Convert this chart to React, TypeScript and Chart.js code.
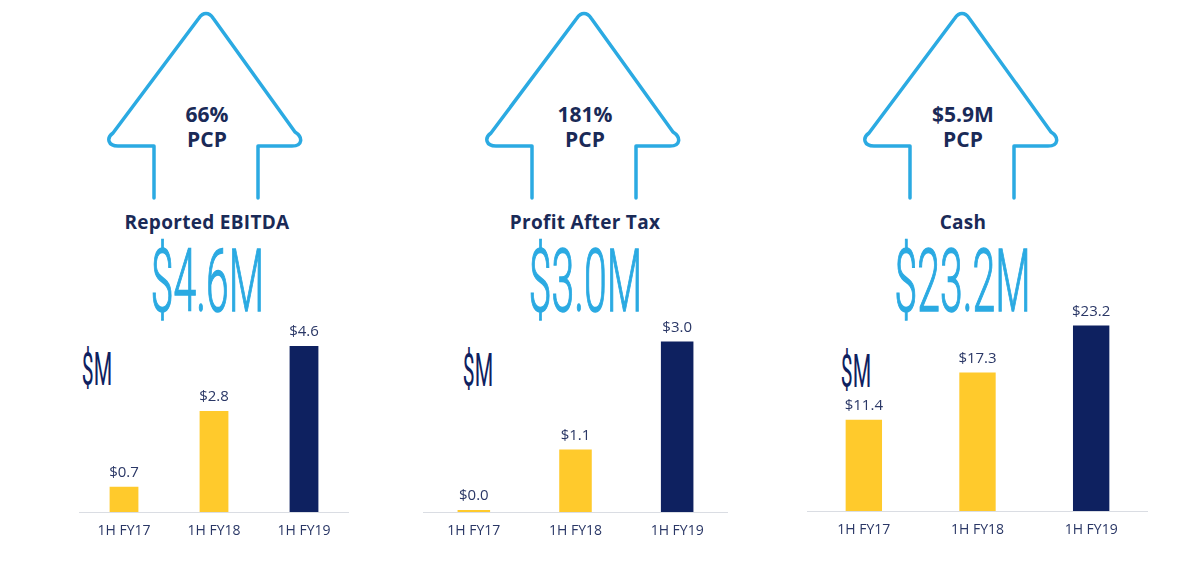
import React, { useEffect, useRef } from "react";
import { Chart, registerables } from "chart.js";

Chart.register(...registerables);

// ---- data ----
const categories = ["1H FY17", "1H FY18", "1H FY19"];
const ebitdaValues = [0.7, 2.8, 4.6];
const profitValues = [0.0, 1.1, 3.0];
const cashValues = [11.4, 17.3, 23.2];
const titles = ["Reported EBITDA", "Profit After Tax", "Cash"];
const headlineValues = ["$4.6M", "$3.0M", "$23.2M"];
const pcpValues = ["66%", "181%", "$5.9M"];

// ---- style ----
const YELLOW = "#FFCA2C";
const NAVY = "#0E2160";
const TEXT_NAVY = "#1A2A57";
const LABEL_COLOR = "#2A3766";
const SKY = "#2BAAE2";
const BAR_COLORS = [YELLOW, YELLOW, NAVY];

// ---- layout ----
const CANVAS_TOP = 290;
const PAD_TOP = 20;
const AXIS_H = 40;
const panels = [
  { values: ebitdaValues, left: 79, width: 270, baseline: 512, yMax: 5.6, cx: 207, mx: 97, my: 369 },
  { values: profitValues, left: 423, width: 305, baseline: 512, yMax: 3.556, cx: 585, mx: 478, my: 370 },
  { values: cashValues, left: 807, width: 341, baseline: 511, yMax: 25.125, cx: 963, mx: 856, my: 371 },
];

const valueLabelPlugin = {
  id: "valueLabels",
  afterDatasetsDraw(chart: any) {
    const ctx = chart.ctx;
    const meta = chart.getDatasetMeta(0);
    const data = chart.data.datasets[0].data;
    ctx.save();
    ctx.font = "15px 'Open Sans'";
    ctx.fillStyle = LABEL_COLOR;
    ctx.textAlign = "center";
    ctx.textBaseline = "middle";
    meta.data.forEach((bar: any, i: number) => {
      ctx.fillText("$" + Number(data[i]).toFixed(1), bar.x, bar.y - 14);
    });
    ctx.restore();
  },
};

function BarPanel({ p }: { p: any }) {
  const ref = useRef<HTMLCanvasElement>(null);
  const height = p.baseline - CANVAS_TOP + AXIS_H;
  useEffect(() => {
    if (!ref.current) return;
    const chart = new Chart(ref.current, {
      type: "bar",
      data: {
        labels: categories,
        datasets: [
          {
            data: p.values,
            backgroundColor: BAR_COLORS,
            borderWidth: 0,
            barPercentage: 0.32,
            categoryPercentage: 1,
            minBarLength: 2,
          },
        ],
      },
      options: {
        responsive: false,
        animation: false,
        devicePixelRatio: 1,
        layout: { padding: { top: PAD_TOP, left: 0, right: 0, bottom: 0 } },
        plugins: { legend: { display: false }, tooltip: { enabled: false } },
        scales: {
          x: {
            grid: { display: false, drawTicks: false },
            border: { display: true, color: "#DADDE3", width: 1 },
            ticks: {
              color: LABEL_COLOR,
              font: { family: "'Open Sans'", size: 14 },
              padding: 11,
              maxRotation: 0,
            },
            afterFit: (scale: any) => {
              scale.height = AXIS_H;
            },
          },
          y: { display: false, min: 0, max: p.yMax },
        },
      },
      plugins: [valueLabelPlugin],
    });
    return () => chart.destroy();
  }, []);
  return (
    <canvas
      ref={ref}
      width={p.width}
      height={height}
      style={{ position: "absolute", left: p.left, top: CANVAS_TOP, width: p.width, height }}
    />
  );
}

function arrowPath(cx: number) {
  const L = cx - 52;
  const R = cx + 52;
  return [
    `M ${L} 198`,
    `L ${L} 146`,
    `L ${cx - 88} 146`,
    `C ${cx - 98} 146, ${cx - 100} 138, ${cx - 93} 133`,
    `L ${cx - 7} 18`,
    `C ${cx - 3} 12, ${cx + 3} 12, ${cx + 7} 18`,
    `L ${cx + 89} 132`,
    `C ${cx + 97} 137, ${cx + 97} 146, ${cx + 86} 146`,
    `L ${R} 146`,
    `L ${R} 198`,
  ].join(" ");
}

export default function App() {
  return (
    <div
      style={{
        position: "absolute",
        left: 0,
        top: 0,
        width: 1200,
        height: 568,
        background: "#FFFFFF",
        overflow: "hidden",
        fontFamily: "'Open Sans', sans-serif",
      }}
    >
      <svg width={1200} height={568} style={{ position: "absolute", left: 0, top: 0 }}>
        {panels.map((p, i) => (
          <path
            key={i}
            d={arrowPath(p.cx - 1)}
            fill="none"
            stroke={SKY}
            strokeWidth={3.5}
            strokeLinejoin="round"
            strokeLinecap="round"
          />
        ))}
      </svg>
      {panels.map((p, i) => (
        <React.Fragment key={i}>
          <div
            style={{
              position: "absolute",
              left: p.cx - 100,
              width: 200,
              top: 102,
              textAlign: "center",
              fontWeight: 700,
              fontSize: 21,
              lineHeight: "25px",
              color: TEXT_NAVY,
            }}
          >
            {pcpValues[i]}
            <br />
            PCP
          </div>
          <div
            style={{
              position: "absolute",
              left: p.cx - 150,
              width: 300,
              top: 210,
              textAlign: "center",
              fontWeight: 700,
              fontSize: 19,
              lineHeight: "24px",
              color: TEXT_NAVY,
              letterSpacing: 0.3,
            }}
          >
            {titles[i]}
          </div>
          <div
            style={{
              position: "absolute",
              left: p.cx - 200,
              width: 400,
              top: 238,
              textAlign: "center",
              fontFamily: "Roboto, sans-serif",
              fontWeight: 300,
              fontSize: 87,
              lineHeight: 1,
              color: SKY,
              WebkitTextStroke: `1.5px ${SKY}`,
            }}
          >
            <span style={{ display: "inline-block", transform: "scaleX(0.47)", transformOrigin: "50% 50%" }}>
              {headlineValues[i]}
            </span>
          </div>
          <div
            style={{
              position: "absolute",
              left: p.mx - 60,
              width: 120,
              top: p.my - 23,
              textAlign: "center",
              fontFamily: "Roboto, sans-serif",
              fontWeight: 400,
              fontSize: 46,
              lineHeight: "46px",
              color: NAVY,
            }}
          >
            <span style={{ display: "inline-block", transform: "scaleX(0.46)", transformOrigin: "50% 50%" }}>$M</span>
          </div>
          <BarPanel p={p} />
        </React.Fragment>
      ))}
    </div>
  );
}
